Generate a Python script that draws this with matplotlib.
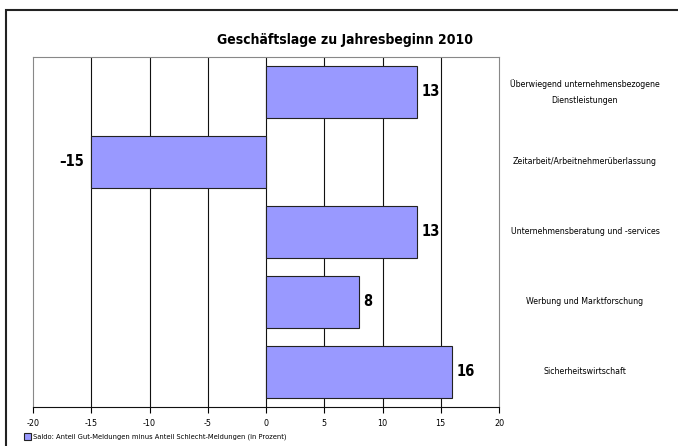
import matplotlib as mpl
mpl.use('Agg')
import matplotlib.pyplot as plt
from matplotlib.patches import Rectangle
import numpy as np

categories = ['Überwiegend unternehmensbezogene\nDienstleistungen',
              'Zeitarbeit/Arbeitnehmerüberlassung',
              'Unternehmensberatung und -services',
              'Werbung und Marktforschung',
              'Sicherheitswirtschaft']
values = [13, -15, 13, 8, 16]
xticks = [-20, -15, -10, -5, 0, 5, 10, 15, 20]
title = 'Geschäftslage zu Jahresbeginn 2010'
legend_label = 'Saldo: Anteil Gut-Meldungen minus Anteil Schlecht-Meldungen (in Prozent)'

plt.rcParams['font.family'] = ['Liberation Sans Narrow', 'DejaVu Sans']
plt.rcParams['font.stretch'] = 'condensed'

W, H = 678, 446
fig = plt.figure(figsize=(W / 100, H / 100), dpi=100)

# outer frame (cropped on right and bottom)
fig.patches.append(Rectangle((6 / W, -0.1), 1.2, 1 - 10 / H + 0.1, transform=fig.transFigure,
                             fill=False, edgecolor='#222222', linewidth=1.5))

ax = fig.add_axes([33 / W, 1 - 407 / H, (499 - 33) / W, (407 - 57) / H])

y = np.arange(len(categories))
ax.barh(y, values, height=0.73, color='#9999FF', edgecolor='#222222', linewidth=0.8, zorder=3)

ax.set_xlim(-20, 20)
ax.set_ylim(len(categories) - 0.5, -0.5)
for xv in xticks[1:-1]:
    ax.axvline(xv, color='#111111', linewidth=0.8, zorder=1)

ax.set_xticks(xticks)
ax.set_xticklabels([str(v) for v in xticks], fontsize=6.5)
ax.tick_params(axis='x', direction='out', length=4, width=0.8, pad=5)
ax.set_yticks([])

for side in ['top', 'right', 'left']:
    ax.spines[side].set_color('#888888')
    ax.spines[side].set_linewidth(0.8)
ax.spines['bottom'].set_color('#111111')
ax.spines['bottom'].set_linewidth(0.8)

for i, v in enumerate(values):
    if v >= 0:
        ax.text(v + 0.35, i, str(v), ha='left', va='center', fontsize=10.5, fontweight='bold')
    else:
        ax.text(v - 0.6, i, '\u2013' + str(-v), ha='right', va='center', fontsize=10.5, fontweight='bold')

for i, c in enumerate(categories):
    ax.text(585 / W, 1 - (57 + 35 + 70 * i) / H, c, transform=fig.transFigure,
            ha='center', va='center', fontsize=6.3, linespacing=1.9)

fig.text(345 / W, 1 - 40 / H, title, ha='center', va='center', fontsize=10, fontweight='bold')

fig.patches.append(Rectangle((24 / W, 1 - 440 / H), 7 / W, 7 / H, transform=fig.transFigure,
                             facecolor='#9999FF', edgecolor='#222222', linewidth=0.8))
fig.text(33 / W, 1 - 436.5 / H, legend_label, ha='left', va='center', fontsize=5.4)

fig.savefig('out.png', dpi=100)
